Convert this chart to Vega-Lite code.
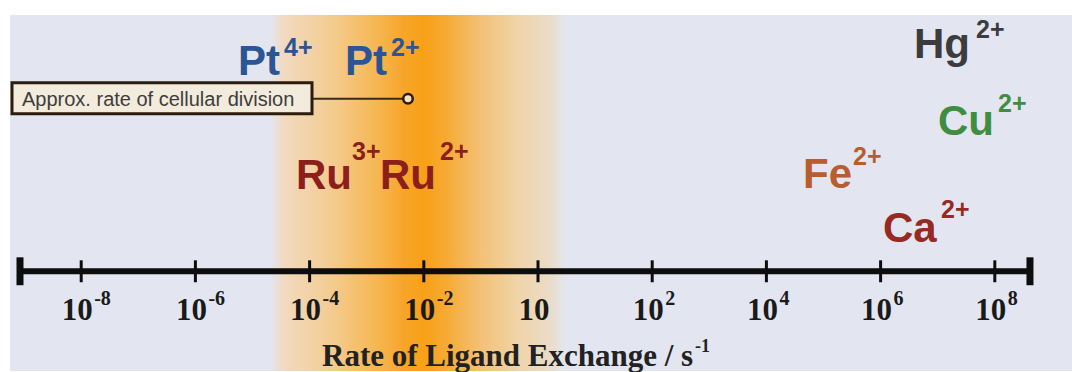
{
  "$schema": "https://vega.github.io/schema/vega-lite/v6.json",
  "width": 1072,
  "height": 372,
  "autosize": {"type": "fit", "contains": "padding"},
  "padding": {"left": 10, "top": 15, "right": 0, "bottom": 0},
  "background": "#ffffff",
  "config": {"view": {"stroke": null, "fill": "#e3e6f0"}},
  "datasets": {
    "band": [{"rate": -4.658, "rate2": 0.473, "level": 15, "level2": 372}],
    "axisline": [{"rate": -9.072, "rate2": 8.616, "level": 272}],
    "caps": [{"rate": -9.072, "level": 258, "level2": 286}, {"rate": 8.616, "level": 258, "level2": 286}],
    "ticks": [
      {"rate": -8, "level": 261, "level2": 283, "base": "10", "exp": "-8"},
      {"rate": -6, "level": 261, "level2": 283, "base": "10", "exp": "-6"},
      {"rate": -4, "level": 261, "level2": 283, "base": "10", "exp": "-4"},
      {"rate": -2, "level": 261, "level2": 283, "base": "10", "exp": "-2"},
      {"rate": 0, "level": 261, "level2": 283, "base": "10", "exp": ""},
      {"rate": 2, "level": 261, "level2": 283, "base": "10", "exp": "2"},
      {"rate": 4, "level": 261, "level2": 283, "base": "10", "exp": "4"},
      {"rate": 6, "level": 261, "level2": 283, "base": "10", "exp": "6"},
      {"rate": 8, "level": 261, "level2": 283, "base": "10", "exp": "8"}
    ],
    "title": [
      {"part": "base", "text": "Rate of Ligand Exchange / s", "rate": -3.783, "level": 367},
      {"part": "sup", "text": "-1", "rate": 2.75, "level": 353}
    ],
    "box": [{"rate": -9.212, "rate2": -3.958, "level": 83, "level2": 114, "text": "Approx. rate of cellular division", "textrate": -9.037, "textlevel": 106}],
    "connector": [{"rate": -3.958, "rate2": -2.277, "level": 99}],
    "marker": [{"rate": -2.277, "level": 99}],
    "ions": [
      {"metal": "Pt", "part": "base", "text": "Pt", "rate": -5.254, "level": 75},
      {"metal": "Pt", "part": "sup", "text": "4+", "rate": -4.448, "level": 56},
      {"metal": "Pt", "part": "base", "text": "Pt", "rate": -3.38, "level": 75},
      {"metal": "Pt", "part": "sup", "text": "2+", "rate": -2.574, "level": 56},
      {"metal": "Ru", "part": "base", "text": "Ru", "rate": -4.238, "level": 189},
      {"metal": "Ru", "part": "sup", "text": "3+", "rate": -3.257, "level": 160},
      {"metal": "Ru", "part": "base", "text": "Ru", "rate": -2.767, "level": 189},
      {"metal": "Ru", "part": "sup", "text": "2+", "rate": -1.716, "level": 160},
      {"metal": "Hg", "part": "base", "text": "Hg", "rate": 6.585, "level": 58},
      {"metal": "Hg", "part": "sup", "text": "2+", "rate": 7.671, "level": 38},
      {"metal": "Cu", "part": "base", "text": "Cu", "rate": 7.005, "level": 135},
      {"metal": "Cu", "part": "sup", "text": "2+", "rate": 8.056, "level": 112},
      {"metal": "Fe", "part": "base", "text": "Fe", "rate": 4.641, "level": 188},
      {"metal": "Fe", "part": "sup", "text": "2+", "rate": 5.517, "level": 165},
      {"metal": "Ca", "part": "base", "text": "Ca", "rate": 6.042, "level": 243},
      {"metal": "Ca", "part": "sup", "text": "2+", "rate": 7.058, "level": 219}
    ]
  },
  "encoding": {
    "x": {"field": "rate", "type": "quantitative", "scale": {"domain": [-9.247, 9.352], "nice": false, "zero": false}, "axis": null},
    "y": {"field": "level", "type": "quantitative", "scale": {"domain": [15, 372], "reverse": true, "nice": false, "zero": false}, "axis": null}
  },
  "layer": [
    {
      "data": {"name": "band"},
      "mark": {
        "type": "rect",
        "fill": {
          "gradient": "linear", "x1": 0, "y1": 0, "x2": 1, "y2": 0,
          "stops": [
            {"offset": 0.0, "color": "#e5e4ea"},
            {"offset": 0.04, "color": "#f1dac0"},
            {"offset": 0.2, "color": "#f4cc92"},
            {"offset": 0.35, "color": "#f6b855"},
            {"offset": 0.45, "color": "#f7a52a"},
            {"offset": 0.52, "color": "#f8a018"},
            {"offset": 0.6, "color": "#f6ab36"},
            {"offset": 0.72, "color": "#f4c27a"},
            {"offset": 0.85, "color": "#f0d5ac"},
            {"offset": 0.95, "color": "#eadcc8"},
            {"offset": 1.0, "color": "#e3e6f0"}
          ]
        }
      },
      "encoding": {"x2": {"field": "rate2"}, "y2": {"field": "level2"}}
    },
    {
      "data": {"name": "axisline"},
      "mark": {"type": "rule", "color": "#0d0d0d", "strokeWidth": 6},
      "encoding": {"x2": {"field": "rate2"}}
    },
    {
      "data": {"name": "caps"},
      "mark": {"type": "rule", "color": "#0d0d0d", "strokeWidth": 7},
      "encoding": {"y2": {"field": "level2"}}
    },
    {
      "data": {"name": "ticks"},
      "mark": {"type": "rule", "color": "#0d0d0d", "strokeWidth": 3},
      "encoding": {"y2": {"field": "level2"}}
    },
    {
      "data": {"name": "ticks"},
      "mark": {"type": "text", "font": "Liberation Serif", "fontWeight": "bold", "fontSize": 31, "align": "center", "baseline": "alphabetic", "dx": -4, "color": "#1a1a1a"},
      "encoding": {"y": {"datum": 321}, "text": {"field": "base"}}
    },
    {
      "data": {"name": "ticks"},
      "mark": {"type": "text", "font": "Liberation Serif", "fontWeight": "bold", "fontSize": 20, "align": "left", "baseline": "alphabetic", "dx": 13, "color": "#1a1a1a"},
      "encoding": {"y": {"datum": 306}, "text": {"field": "exp"}}
    },
    {
      "data": {"name": "title"},
      "transform": [{"filter": "datum.part === 'base'"}],
      "mark": {"type": "text", "font": "Liberation Serif", "fontWeight": "bold", "fontSize": 31, "align": "left", "baseline": "alphabetic", "color": "#222222"},
      "encoding": {"text": {"field": "text"}}
    },
    {
      "data": {"name": "title"},
      "transform": [{"filter": "datum.part === 'sup'"}],
      "mark": {"type": "text", "font": "Liberation Serif", "fontWeight": "bold", "fontSize": 18, "align": "left", "baseline": "alphabetic", "color": "#222222"},
      "encoding": {"text": {"field": "text"}}
    },
    {
      "data": {"name": "connector"},
      "mark": {"type": "rule", "color": "#3b2a18", "strokeWidth": 2},
      "encoding": {"x2": {"field": "rate2"}}
    },
    {
      "data": {"name": "box"},
      "mark": {"type": "rect", "fill": "#f3ebdc", "stroke": "#2b1c0c", "strokeWidth": 3},
      "encoding": {"x2": {"field": "rate2"}, "y2": {"field": "level2"}}
    },
    {
      "data": {"name": "box"},
      "mark": {"type": "text", "font": "Liberation Sans", "fontSize": 20, "align": "left", "baseline": "alphabetic", "color": "#3d3d3d"},
      "encoding": {"x": {"field": "textrate", "type": "quantitative"}, "y": {"field": "textlevel", "type": "quantitative"}, "text": {"field": "text"}}
    },
    {
      "data": {"name": "marker"},
      "mark": {"type": "point", "shape": "circle", "size": 90, "filled": true, "fill": "#f2e3c8", "stroke": "#2b1c0c", "strokeWidth": 2.5, "opacity": 1}
    },
    {
      "data": {"name": "ions"},
      "transform": [{"filter": "datum.part === 'base'"}],
      "mark": {"type": "text", "font": "Liberation Sans", "fontWeight": "bold", "fontSize": 42, "align": "left", "baseline": "alphabetic"},
      "encoding": {
        "text": {"field": "text"},
        "color": {"field": "metal", "type": "nominal", "scale": {"domain": ["Pt", "Ru", "Hg", "Cu", "Fe", "Ca"], "range": ["#2b5595", "#8c1f1c", "#3c3b3e", "#3f8d40", "#b85d2d", "#962a22"]}, "legend": null}
      }
    },
    {
      "data": {"name": "ions"},
      "transform": [{"filter": "datum.part === 'sup'"}],
      "mark": {"type": "text", "font": "Liberation Sans", "fontWeight": "bold", "fontSize": 25, "align": "left", "baseline": "alphabetic"},
      "encoding": {
        "text": {"field": "text"},
        "color": {"field": "metal", "type": "nominal", "scale": {"domain": ["Pt", "Ru", "Hg", "Cu", "Fe", "Ca"], "range": ["#2b5595", "#8c1f1c", "#3c3b3e", "#3f8d40", "#b85d2d", "#962a22"]}, "legend": null}
      }
    }
  ]
}
